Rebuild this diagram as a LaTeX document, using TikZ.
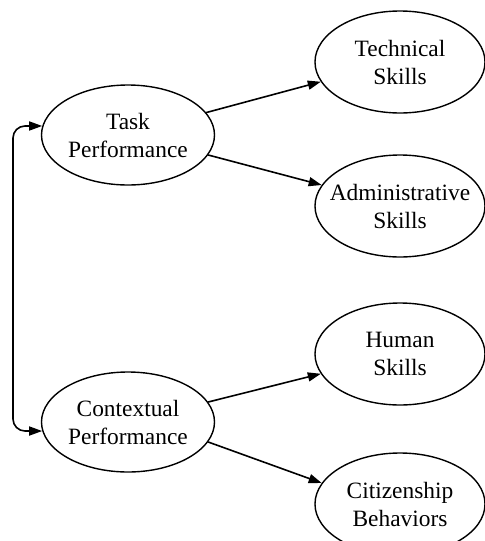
\documentclass[tikz,border=0pt]{standalone}
\usepackage{fontspec}
\setmainfont{Liberation Serif}
\usepackage{tikz}
\usetikzlibrary{arrows.meta,shapes.geometric}

\begin{document}
\begin{tikzpicture}[x=0.5pt,y=-0.5pt,
    perf/.style={ellipse,draw,line width=0.7pt,minimum width=86.5pt,
      minimum height=50pt,inner xsep=-20pt,inner ysep=0pt,align=center,
      font=\fontsize{11.7}{14}\selectfont},
    skill/.style={perf,minimum width=85pt,minimum height=51pt},
    link/.style={-{Triangle[length=6.5pt,width=4.5pt]},line width=0.8pt},
    both/.style={{Triangle[length=6.5pt,width=4.5pt]}-{Triangle[length=6.5pt,width=4.5pt]},
      line width=0.8pt,rounded corners=6pt}]
        \useasboundingbox (0,0) rectangle (485,541);
        \clip (0,0) rectangle (485,541);
        % Performance dimensions
        \node[perf] (task) at (128,135) {Task\\Performance};
        \node[perf] (ctx) at (128,422) {Contextual\\Performance};
        % Skill areas
        \node[skill] (tech) at (400,62) {Technical\\Skills};
        \node[skill] (admin) at (400,206) {Administrative\\Skills};
        \node[skill] (human) at (400,354) {Human\\Skills};
        \node[skill] (citizen) at (400,504) {Citizenship\\Behaviors};
        % Paths to skills
        \draw[link] (task.16) -- (tech.194);
        \draw[link] (task.346) -- (admin.165);
        \draw[link] (ctx.14) -- (human.194);
        \draw[link] (ctx.346) -- (citizen.165);
        % Link between the two dimensions
        \coordinate (rail) at (13,0);
        \draw[both] (task.174) -- (task.174 -| rail)
          -- (ctx.186 -| rail) -- (ctx.186);
\end{tikzpicture}
\end{document}
